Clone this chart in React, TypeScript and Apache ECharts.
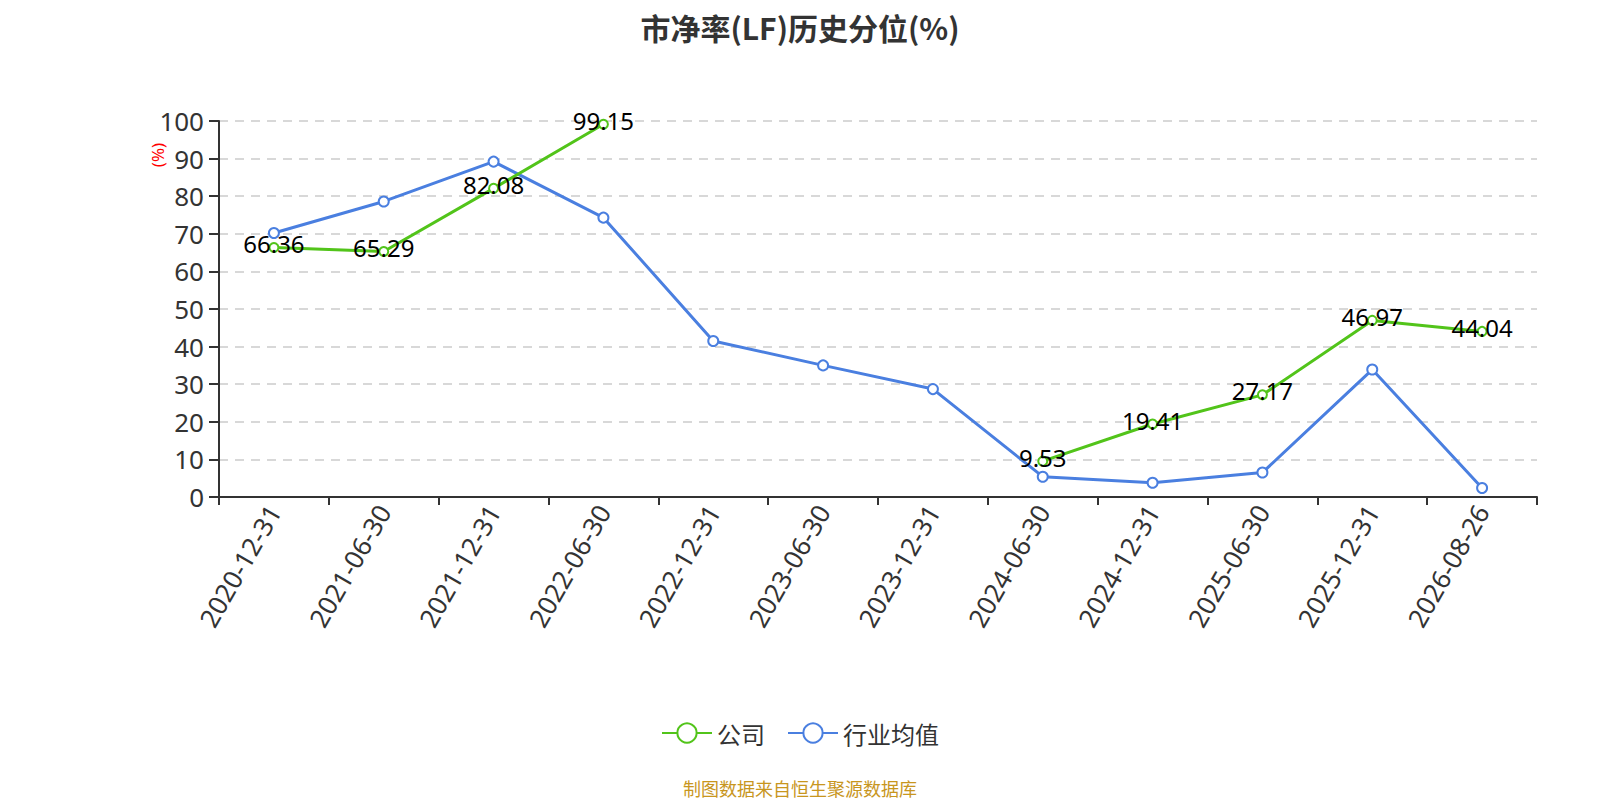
import React, { useEffect, useRef } from "react";
import * as echarts from "echarts";

const categories = [
  "2020-12-31", "2021-06-30", "2021-12-31", "2022-06-30", "2022-12-31", "2023-06-30",
  "2023-12-31", "2024-06-30", "2024-12-31", "2025-06-30", "2025-12-31", "2026-08-26",
];
const companyValues: (number | null)[] = [66.36, 65.29, 82.08, 99.15, null, null, null, 9.53, 19.41, 27.17, 46.97, 44.04];
const industryValues = [70.2, 78.6, 89.2, 74.3, 41.5, 35.0, 28.7, 5.4, 3.8, 6.5, 33.9, 2.4];

export default function App() {
  const ref = useRef<HTMLDivElement>(null);
  useEffect(() => {
    const chart = echarts.init(ref.current!, null, { renderer: "svg" });
    chart.setOption({
      animation: false,
      title: {
        text: "市净率(LF)历史分位(%)",
        left: "center",
        top: 7,
        textStyle: { fontSize: 30, fontWeight: "bold", color: "#333", fontFamily: "Noto Sans CJK SC" },
      },
      grid: { left: 219, right: 63, top: 121, bottom: 303 },
      legend: {
        top: 716,
        left: "center",
        itemWidth: 50,
        itemHeight: 24,
        itemGap: 22,
        textStyle: { fontSize: 24, color: "#333", fontFamily: "Noto Sans CJK SC" },
        data: ["公司", "行业均值"],
      },
      graphic: [
        {
          type: "text",
          x: 157,
          y: 155,
          rotation: Math.PI / 2,
          style: { text: "(%)", fill: "red", fontSize: 17, align: "center", verticalAlign: "middle", fontFamily: "Noto Sans" },
        },
        {
          type: "text",
          left: "center",
          top: 779,
          style: { text: "制图数据来自恒生聚源数据库", fill: "#c8961e", fontSize: 18, fontFamily: "Noto Sans CJK SC" },
        },
      ],
      xAxis: {
        type: "category",
        data: categories,
        axisLine: { lineStyle: { color: "#333", width: 2 } },
        axisTick: { show: true, length: 8, lineStyle: { color: "#333", width: 2 } },
        axisLabel: { rotate: 60, fontSize: 26, color: "#333", margin: 10, interval: 0, fontFamily: "Noto Sans" },
      },
      yAxis: {
        type: "value",
        min: 0,
        max: 100,
        interval: 10,
        axisLine: { show: true, lineStyle: { color: "#333", width: 2 } },
        axisTick: { show: true, length: 10, lineStyle: { color: "#333", width: 2 } },
        axisLabel: { fontSize: 26, color: "#333", margin: 15, fontFamily: "Noto Sans" },
        splitLine: { lineStyle: { type: [9, 7], color: "#ccc", width: 1.5 } },
      },
      series: [
        {
          name: "公司",
          type: "line",
          data: companyValues,
          connectNulls: false,
          symbol: "emptyCircle",
          symbolSize: 9,
          itemStyle: { color: "#52c41a" },
          lineStyle: { width: 3, color: "#52c41a" },
          label: {
            show: true,
            position: "inside",
            offset: [0, -4],
            fontSize: 24,
            color: "#000",
            fontFamily: "Noto Sans",
            formatter: (p: any) => Number(p.value).toFixed(2),
          },
          z: 3,
        },
        {
          name: "行业均值",
          type: "line",
          data: industryValues,
          symbol: "emptyCircle",
          symbolSize: 10,
          itemStyle: { color: "#4a7fe0" },
          lineStyle: { width: 3, color: "#4a7fe0" },
          z: 2,
        },
      ],
    });
    return () => chart.dispose();
  }, []);
  return (
    <div
      ref={ref}
      style={{ position: "fixed", left: 0, top: 0, width: 1600, height: 800, overflow: "hidden", background: "#fff" }}
    />
  );
}
